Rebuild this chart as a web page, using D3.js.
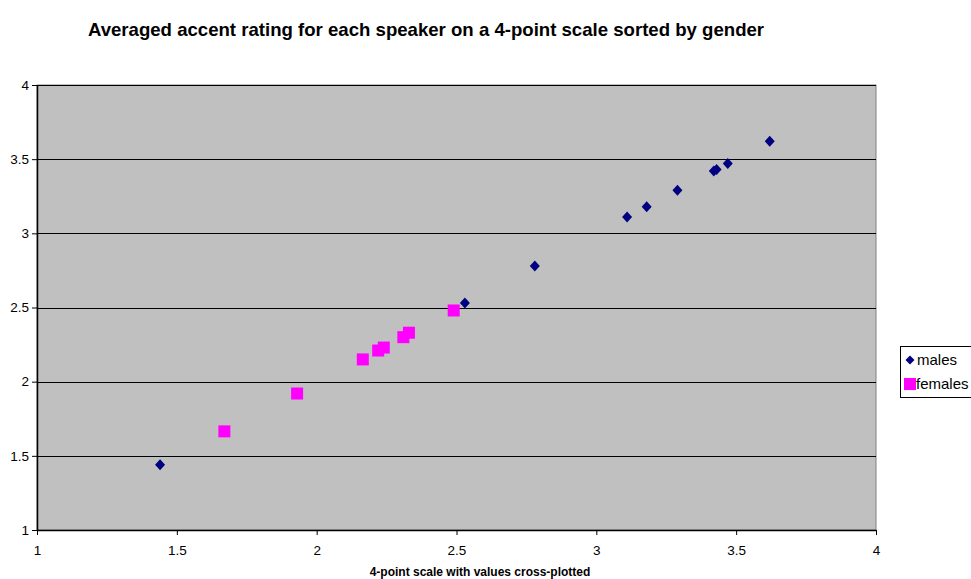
<!DOCTYPE html>
<html>
<head>
<meta charset="utf-8">
<script src="https://cdn.jsdelivr.net/npm/d3@7"></script>
<style>
  html, body { margin: 0; padding: 0; background: #ffffff; }
  svg { display: block; font-family: "Liberation Sans", Arial, sans-serif; }
</style>
</head>
<body>
<svg id="chart" width="971" height="579"></svg>
<script>
// Speaker accent ratings (x = scale value, y = cross-plotted value)
const malesX   = [1.44, 2.53, 2.78, 3.11, 3.18, 3.29, 3.42, 3.43, 3.47, 3.62];
const malesY   = [1.44, 2.53, 2.78, 3.11, 3.18, 3.29, 3.42, 3.43, 3.47, 3.62];
const femalesX = [1.67, 1.93, 2.165, 2.22, 2.24, 2.31, 2.33, 2.49];
const femalesY = [1.665, 1.92, 2.15, 2.21, 2.23, 2.30, 2.33, 2.48];
const xTicks = [1, 1.5, 2, 2.5, 3, 3.5, 4];
const yTicks = [1, 1.5, 2, 2.5, 3, 3.5, 4];

const svg = d3.select("#chart");
const plot = { left: 37, right: 876, top: 85, bottom: 530 };

const x = d3.scaleLinear().domain([1, 4]).range([plot.left, plot.right]);
const y = d3.scaleLinear().domain([1, 4]).range([plot.bottom, plot.top]);

// Title
svg.append("text")
  .attr("x", 426).attr("y", 36)
  .attr("text-anchor", "middle")
  .attr("font-size", 18.6).attr("font-weight", "bold")
  .text("Averaged accent rating for each speaker on a 4-point scale sorted by gender");

// Plot area
svg.append("rect")
  .attr("x", plot.left).attr("y", plot.top)
  .attr("width", plot.right - plot.left).attr("height", plot.bottom - plot.top)
  .attr("fill", "#c0c0c0").attr("stroke", "#808080").attr("stroke-width", 1);

// Horizontal gridlines
svg.append("g").selectAll("line")
  .data(yTicks.filter(t => t > 1))
  .join("line")
  .attr("x1", plot.left).attr("x2", plot.right)
  .attr("y1", d => Math.round(y(d)) + 0.5).attr("y2", d => Math.round(y(d)) + 0.5)
  .attr("stroke", "#000").attr("stroke-width", 1);

// Axes
const xAxis = d3.axisBottom(x).tickValues(xTicks).tickFormat(d3.format("~g"))
  .tickSizeInner(5).tickSizeOuter(0).tickPadding(10);
const yAxis = d3.axisLeft(y).tickValues(yTicks).tickFormat(d3.format("~g"))
  .tickSizeInner(5).tickSizeOuter(0).tickPadding(3);

const gx = svg.append("g").attr("transform", `translate(0,${plot.bottom})`).call(xAxis);
const gy = svg.append("g").attr("transform", `translate(${plot.left},0)`).call(yAxis);
[gx, gy].forEach(g => {
  g.selectAll("path").attr("stroke", "#000").attr("stroke-width", 1.5);
  g.selectAll("line").attr("stroke", "#000");
  g.selectAll("text").attr("font-size", 13.5).attr("fill", "#000")
    .attr("font-family", "Liberation Sans, Arial, sans-serif");
});

// Axis title
svg.append("text")
  .attr("x", 480).attr("y", 576)
  .attr("text-anchor", "middle")
  .attr("font-size", 12).attr("font-weight", "bold")
  .text("4-point scale with values cross-plotted");

// Female markers (squares)
const sq = 12;
svg.append("g").selectAll("rect")
  .data(femalesX.map((v, i) => [v, femalesY[i]]))
  .join("rect")
  .attr("x", d => x(d[0]) - sq / 2).attr("y", d => y(d[1]) - sq / 2)
  .attr("width", sq).attr("height", sq)
  .attr("fill", "#ff00ff");

// Male markers (diamonds)
const diamond = "M0,-5.5L5,0L0,5.5L-5,0Z";
svg.append("g").selectAll("path")
  .data(malesX.map((v, i) => [v, malesY[i]]))
  .join("path")
  .attr("d", diamond)
  .attr("transform", d => `translate(${x(d[0])},${y(d[1])})`)
  .attr("fill", "#000080");

// Legend
const lg = svg.append("g");
lg.append("rect").attr("x", 900.5).attr("y", 346.5).attr("width", 90).attr("height", 51)
  .attr("fill", "#fff").attr("stroke", "#000");
lg.append("path").attr("d", "M0,-4.5L4.5,0L0,4.5L-4.5,0Z")
  .attr("transform", "translate(910,360)").attr("fill", "#000080");
lg.append("text").attr("x", 917).attr("y", 365).attr("font-size", 15).text("males");
lg.append("rect").attr("x", 904).attr("y", 378).attr("width", 12).attr("height", 12)
  .attr("fill", "#ff00ff");
lg.append("text").attr("x", 916).attr("y", 389).attr("font-size", 15).text("females");
</script>
</body>
</html>
